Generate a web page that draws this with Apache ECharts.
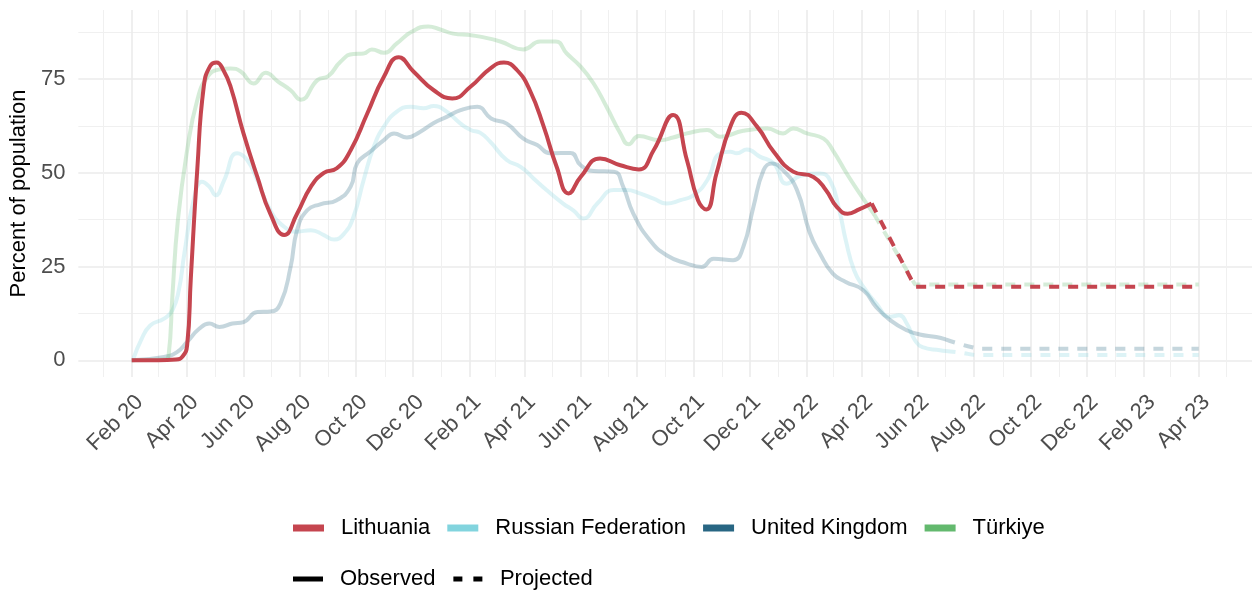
<!DOCTYPE html>
<html>
<head>
<meta charset="utf-8">
<script src="https://cdn.jsdelivr.net/npm/echarts@6/dist/echarts.min.js"></script>
<style>
  html, body { margin: 0; background: #fff; }
  #chart { width: 1252px; height: 595px; }
</style>
</head>
<body>
<div id="chart"></div>
<script>
  const months = ['Jan', 'Feb', 'Mar', 'Apr', 'May', 'Jun', 'Jul', 'Aug', 'Sep', 'Oct', 'Nov', 'Dec']

  // 标签位置（每两个月）和次网格线（奇数月）
  const majorDates = ['2020-02-01', '2020-04-01', '2020-06-01', '2020-08-01', '2020-10-01', '2020-12-01',
    '2021-02-01', '2021-04-01', '2021-06-01', '2021-08-01', '2021-10-01', '2021-12-01',
    '2022-02-01', '2022-04-01', '2022-06-01', '2022-08-01', '2022-10-01', '2022-12-01',
    '2023-02-01', '2023-04-01']
  const minorDates = ['2020-01-01', '2020-03-01', '2020-05-01', '2020-07-01', '2020-09-01', '2020-11-01',
    '2021-01-01', '2021-03-01', '2021-05-01', '2021-07-01', '2021-09-01', '2021-11-01',
    '2022-01-01', '2022-03-01', '2022-05-01', '2022-07-01', '2022-09-01', '2022-11-01',
    '2023-01-01', '2023-03-01', '2023-05-01']
  const yTicks = [0, 25, 50, 75]
  const yMinor = [12.5, 37.5, 62.5, 87.5]

  const countries = ['Lithuania', 'Russian Federation', 'United Kingdom', 'Türkiye']
  const colors = ['#c5454f', '#82d4de', '#286683', '#63b96e']

  const lithuaniaObs = [['2020-02-01', 0], ['2020-03-01', 0], ['2020-03-20', 0.2], ['2020-03-27', 1], ['2020-04-01', 4],
    ['2020-04-05', 22], ['2020-04-12', 51], ['2020-04-19', 73], ['2020-04-26', 78.5], ['2020-05-03', 79.4],
    ['2020-05-10', 77.5], ['2020-05-18', 73], ['2020-06-01', 60.5], ['2020-06-16', 48.9], ['2020-06-30', 39.1],
    ['2020-07-15', 33.4], ['2020-07-29', 39.1], ['2020-08-13', 46.3], ['2020-08-27', 50], ['2020-09-10', 51.2],
    ['2020-09-25', 56], ['2020-10-13', 65.8], ['2020-10-31', 75.6], ['2020-11-16', 80.8], ['2020-12-02', 77],
    ['2020-12-24', 72], ['2021-01-13', 69.8], ['2021-02-02', 73], ['2021-02-23', 77.8], ['2021-03-10', 79.4],
    ['2021-03-24', 77.4], ['2021-04-07', 72], ['2021-04-22', 62.3], ['2021-05-06', 51.6], ['2021-05-19', 44.5],
    ['2021-06-01', 48.9], ['2021-06-22', 53.8], ['2021-07-14', 52], ['2021-08-03', 50.9], ['2021-08-19', 56],
    ['2021-09-09', 65.4], ['2021-09-24', 53.4], ['2021-10-06', 42.7], ['2021-10-15', 40.2], ['2021-10-26', 49.8],
    ['2021-11-10', 62.3], ['2021-11-22', 66], ['2021-12-09', 62.3], ['2021-12-27', 55.6], ['2022-01-17', 50.3],
    ['2022-02-08', 48.9], ['2022-02-22', 45.2], ['2022-03-05', 41], ['2022-03-17', 39.1], ['2022-03-30', 40.3],
    ['2022-04-12', 41.8]]
  const lithuaniaProj = [['2022-04-12', 41.8], ['2022-05-29', 19.6], ['2023-04-01', 19.6]]

  const russiaObs = [['2020-02-03', 0.5], ['2020-02-11', 5.3], ['2020-02-21', 9.3], ['2020-03-07', 11.1], ['2020-03-16', 13.3],
    ['2020-03-23', 18.7], ['2020-03-29', 28.5], ['2020-04-08', 42.7], ['2020-04-17', 47.6], ['2020-04-25', 46.3],
    ['2020-05-02', 44], ['2020-05-11', 48], ['2020-05-25', 55.2], ['2020-06-05', 53.4], ['2020-06-16', 48],
    ['2020-06-30', 40], ['2020-07-15', 35.6], ['2020-07-29', 34.3], ['2020-08-13', 34.7], ['2020-08-27', 33.4],
    ['2020-09-07', 32.2], ['2020-09-18', 33.8], ['2020-09-28', 38.2], ['2020-10-09', 48], ['2020-10-20', 56.9],
    ['2020-10-31', 62.3], ['2020-11-14', 66.3], ['2020-11-29', 67.6], ['2020-12-13', 67.2], ['2020-12-24', 67.8],
    ['2021-01-07', 66.3], ['2021-01-22', 63.1], ['2021-02-02', 61.4], ['2021-02-12', 60.7], ['2021-02-23', 58.3],
    ['2021-03-13', 53.4], ['2021-03-28', 51.6], ['2021-04-11', 48.5], ['2021-04-25', 45.4], ['2021-05-13', 41.8],
    ['2021-05-24', 40], ['2021-06-04', 37.8], ['2021-06-19', 41.8], ['2021-07-07', 45.4], ['2021-07-21', 45.4],
    ['2021-08-04', 44.5], ['2021-08-19', 43.1], ['2021-09-02', 41.8], ['2021-09-17', 42.7], ['2021-10-01', 44],
    ['2021-10-16', 48], ['2021-10-30', 55.2], ['2021-11-10', 55.6], ['2021-11-17', 55.2], ['2021-11-28', 56.2],
    ['2021-12-12', 54.3], ['2021-12-27', 52.5], ['2022-01-10', 47.1], ['2022-01-25', 49.2], ['2022-02-15', 49.8],
    ['2022-02-26', 48], ['2022-03-08', 40], ['2022-03-15', 32], ['2022-03-24', 24], ['2022-04-03', 19.6],
    ['2022-04-17', 15.1], ['2022-05-02', 11.6], ['2022-05-12', 12], ['2022-05-20', 9.8], ['2022-05-29', 5.3],
    ['2022-06-06', 3.5], ['2022-06-25', 2.7], ['2022-07-01', 2.5]]
  const russiaProj = [['2022-07-01', 2.5], ['2022-07-16', 2.1], ['2022-08-07', 1.4], ['2023-04-01', 1.4]]

  const ukObs = [['2020-02-01', 0], ['2020-03-07', 0.9], ['2020-03-21', 2.2], ['2020-04-01', 4.9], ['2020-04-14', 8.4],
    ['2020-04-25', 9.8], ['2020-05-06', 8.9], ['2020-05-20', 9.8], ['2020-06-01', 10.2], ['2020-06-16', 12.9],
    ['2020-06-30', 13], ['2020-07-11', 15.1], ['2020-07-22', 24.9], ['2020-07-29', 34.7], ['2020-08-09', 40],
    ['2020-08-23', 41.6], ['2020-09-10', 42.7], ['2020-09-25', 46.3], ['2020-10-02', 52.5], ['2020-10-16', 55.6],
    ['2020-10-31', 58.7], ['2020-11-11', 60.5], ['2020-11-25', 59.4], ['2020-12-09', 60.9], ['2020-12-24', 63.3],
    ['2021-01-07', 64.9], ['2021-01-22', 66.7], ['2021-02-09', 67.6], ['2021-02-24', 64.5], ['2021-03-13', 63.1],
    ['2021-03-31', 59.1], ['2021-04-15', 57.4], ['2021-04-29', 55.2], ['2021-05-21', 55.3], ['2021-06-01', 52],
    ['2021-06-15', 50.5], ['2021-07-07', 50.3], ['2021-07-17', 46.3], ['2021-07-28', 39.1], ['2021-08-15', 32],
    ['2021-09-02', 28], ['2021-09-24', 25.8], ['2021-10-10', 24.9], ['2021-10-23', 27.1], ['2021-11-13', 26.7],
    ['2021-11-24', 30.2], ['2021-12-05', 40.9], ['2021-12-16', 50.7], ['2021-12-25', 52.5], ['2022-01-06', 50.7],
    ['2022-01-21', 45.5], ['2022-02-04', 34], ['2022-02-15', 28.5], ['2022-03-01', 23.1], ['2022-03-15', 20.9],
    ['2022-04-03', 18.7], ['2022-04-17', 14.2], ['2022-05-02', 10.7], ['2022-05-20', 8], ['2022-06-03', 6.9],
    ['2022-06-21', 6.2], ['2022-07-01', 5.6]]
  const ukProj = [['2022-07-01', 5.6], ['2022-07-13', 4.6], ['2022-07-31', 3.4], ['2022-08-10', 3.1], ['2023-04-01', 3.1]]

  const turkiyeObs = [['2020-02-01', 0], ['2020-03-08', 0.2], ['2020-03-12', 1.5], ['2020-03-16', 17], ['2020-03-22', 37.4],
    ['2020-04-01', 56], ['2020-04-12', 69.4], ['2020-04-23', 75.6], ['2020-05-05', 77.5], ['2020-05-18', 77.8],
    ['2020-05-29', 77], ['2020-06-12', 73.8], ['2020-06-25', 76.7], ['2020-07-08', 74.4], ['2020-07-22', 72],
    ['2020-08-02', 69.5], ['2020-08-20', 74.7], ['2020-09-01', 75.8], ['2020-09-14', 79.6], ['2020-09-28', 81.7],
    ['2020-10-09', 81.8], ['2020-10-18', 82.9], ['2020-10-31', 82], ['2020-11-14', 84.5], ['2020-11-30', 87.6],
    ['2020-12-18', 89], ['2020-12-31', 88.2], ['2021-01-14', 87.1], ['2021-02-02', 86.7], ['2021-02-12', 86.3],
    ['2021-03-06', 85], ['2021-03-31', 82.9], ['2021-04-18', 85], ['2021-05-05', 85], ['2021-05-17', 81.8],
    ['2021-06-01', 78.3], ['2021-06-15', 73.8], ['2021-06-29', 67.6], ['2021-07-14', 60.5], ['2021-07-23', 57.6],
    ['2021-08-03', 59.8], ['2021-08-26', 58.7], ['2021-09-09', 59.4], ['2021-09-24', 60.5], ['2021-10-16', 61.4],
    ['2021-10-30', 59.6], ['2021-11-24', 61.2], ['2021-12-20', 61.8], ['2022-01-06', 60.5], ['2022-01-17', 61.8],
    ['2022-02-01', 60.5], ['2022-02-19', 59.1], ['2022-03-01', 56], ['2022-03-16', 49.8], ['2022-03-30', 44.5],
    ['2022-04-15', 38.8]]
  const turkiyeProj = [['2022-04-15', 38.8], ['2022-05-29', 20.2], ['2023-04-01', 20.2]]

  function toTime(s) {
    const p = s.split('-')
    return new Date(+p[0], +p[1] - 1, +p[2]).getTime()
  }

  // x轴用毫秒数值轴，两边各留5%（和ggplot一样）
  const t0 = toTime('2020-02-01')
  const t1 = toTime('2023-04-01')
  const pad = (t1 - t0) * 0.05

  const font = 'Liberation Sans, Arial, sans-serif'

  function line(name, data, color, dashed, faded, smooth) {
    return {
      name: name,
      type: 'line',
      data: data.map(function (p) { return [toTime(p[0]), p[1]] }),
      smooth: smooth,
      symbol: 'none',
      showSymbol: false,
      silent: true,
      z: faded ? 2 : 4,
      itemStyle: { color: color },
      lineStyle: { color: color, width: 4, type: dashed ? [10, 9] : 'solid', opacity: faded ? 0.27 : 1 },
      emphasis: { disabled: true }
    }
  }

  // 只为图例用的空序列
  function keySeries(name) {
    return { name: name, type: 'line', data: [], symbol: 'none', color: '#000' }
  }

  const series = [
    line(countries[1], russiaObs, colors[1], false, true, 0.5),
    line(countries[1], russiaProj, colors[1], true, true, 0.5),
    line(countries[2], ukObs, colors[2], false, true, 0.5),
    line(countries[2], ukProj, colors[2], true, true, 0.5),
    line(countries[3], turkiyeObs, colors[3], false, true, 0.5),
    line(countries[3], turkiyeProj, colors[3], true, true, false),
    line(countries[0], lithuaniaObs, colors[0], false, false, 0.5),
    line(countries[0], lithuaniaProj, colors[0], true, false, false),
    keySeries('Observed'),
    keySeries('Projected')
  ]

  const myChart = echarts.init(document.getElementById('chart'))
  const option = {
    animation: false,
    backgroundColor: '#fff',
    textStyle: { fontFamily: font },
    grid: { left: 78, right: 0, top: 10, bottom: 218, containLabel: false },
    xAxis: [
      {
        type: 'value',
        min: t0 - pad,
        max: t1 + pad,
        axisLine: { show: false },
        axisTick: { show: false, customValues: majorDates.map(toTime) },
        axisLabel: {
          customValues: majorDates.map(toTime),
          rotate: 45,
          margin: 14,
          verticalAlign: 'top',
          fontSize: 22,
          color: '#4d4d4d',
          fontFamily: font,
          formatter: function (v) {
            const d = new Date(v)
            return months[d.getMonth()] + ' ' + String(d.getFullYear()).slice(2)
          }
        },
        splitLine: { show: true, lineStyle: { color: '#ebebeb', width: 1.6 } }
      },
      {
        type: 'value',
        position: 'top',
        min: t0 - pad,
        max: t1 + pad,
        axisLine: { show: false },
        axisTick: { show: false, customValues: minorDates.map(toTime) },
        axisLabel: { show: false },
        splitLine: { show: true, lineStyle: { color: '#f0f0f0', width: 1 } }
      }
    ],
    yAxis: [
      {
        type: 'value',
        min: -4.45,
        max: 93.4,
        name: 'Percent of population',
        nameLocation: 'middle',
        nameGap: 45,
        nameTextStyle: { fontSize: 22, color: '#000', fontFamily: font },
        axisLine: { show: false },
        axisTick: { show: false, customValues: yTicks },
        axisLabel: { customValues: yTicks, margin: 13, fontSize: 22, color: '#4d4d4d', fontFamily: font },
        splitLine: { show: true, lineStyle: { color: '#ebebeb', width: 1.6 } }
      },
      {
        type: 'value',
        position: 'right',
        min: -4.45,
        max: 93.4,
        axisLine: { show: false },
        axisTick: { show: false, customValues: yMinor },
        axisLabel: { show: false },
        splitLine: { show: true, lineStyle: { color: '#f0f0f0', width: 1 } }
      }
    ],
    legend: [
      {
        left: 293,
        top: 517,
        padding: 0,
        icon: 'rect',
        itemWidth: 31,
        itemHeight: 7,
        itemGap: 17,
        selectedMode: false,
        textStyle: { fontSize: 22, color: '#000', fontFamily: font, padding: [0, 0, 0, 12] },
        data: countries.map(function (c, i) {
          return { name: c, itemStyle: { color: colors[i], opacity: 1 } }
        })
      },
      {
        left: 293,
        top: 568,
        padding: 0,
        itemWidth: 30,
        itemHeight: 5,
        itemGap: 18,
        selectedMode: false,
        textStyle: { fontSize: 22, color: '#000', fontFamily: font, padding: [0, 0, 0, 12] },
        data: [
          { name: 'Observed', icon: 'rect', itemStyle: { color: '#000' } },
          { name: 'Projected', icon: 'path://M0,0H9V5H0Z M20,0H29V5H20Z', itemStyle: { color: '#000' } }
        ]
      }
    ],
    series: series
  }
  myChart.setOption(option)
</script>
</body>
</html>
